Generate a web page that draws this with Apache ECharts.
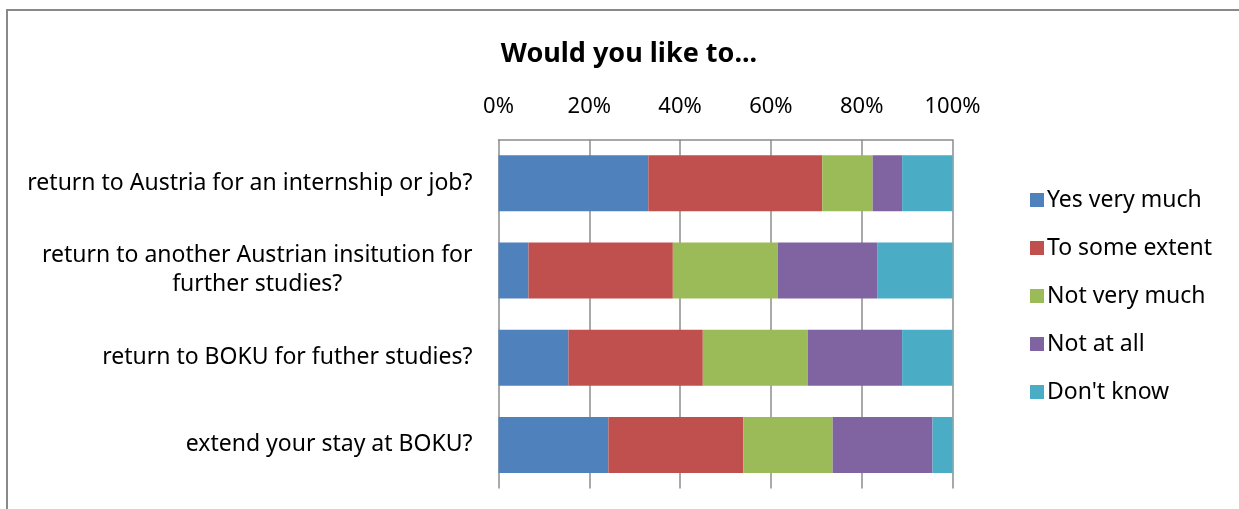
<!DOCTYPE html>
<html>
<head>
<meta charset="utf-8">
<script src="https://cdn.jsdelivr.net/npm/echarts@6/dist/echarts.min.js"></script>
<style>
  html, body { margin: 0; padding: 0; background: #fff; }
  #chart { width: 1239px; height: 509px; }
</style>
</head>
<body>
<div id="chart"></div>
<script>
var categories = [
    'return to Austria for an internship or job?',
    'return to another Austrian insitution for\nfurther studies?',
    'return to BOKU for futher studies?',
    'extend your stay at BOKU?'
];
var seriesNames = ['Yes very much', 'To some extent', 'Not very much', 'Not at all', "Don't know"];
var yesVeryMuch = [33.0, 6.6, 15.4, 24.2];
var toSomeExtent = [38.3, 31.8, 29.6, 29.7];
var notVeryMuch = [11.1, 23.1, 23.1, 19.7];
var notAtAll = [6.5, 21.9, 20.8, 22.0];
var dontKnow = [11.1, 16.6, 11.1, 4.4];
var xTicks = [0, 20, 40, 60, 80, 100];

var colors = ['#4F81BD', '#C0504D', '#9BBB59', '#8064A2', '#4BACC6'];
var values = [yesVeryMuch, toSomeExtent, notVeryMuch, notAtAll, dontKnow];
var font = 'Noto Sans';

var series = [];
for (var i = 0; i < seriesNames.length; i++) {
    series.push({
        name: seriesNames[i],
        type: 'bar',
        stack: 'total',
        barWidth: 56,
        data: values[i],
        itemStyle: { color: colors[i] }
    });
}

var myChart = echarts.init(document.getElementById('chart'));
var option = {
    backgroundColor: '#fff',
    animation: false,
    color: colors,
    title: {
        text: 'Would you like to...',
        left: 624,
        top: 36,
        textAlign: 'center',
        textStyle: { fontFamily: font, fontWeight: 'bold', fontSize: 27, color: '#000' }
    },
    legend: {
        orient: 'vertical',
        left: 1025,
        top: 183,
        itemWidth: 14,
        itemHeight: 14,
        itemGap: 24,
        icon: 'rect',
        data: seriesNames,
        textStyle: { fontFamily: font, fontSize: 23, color: '#000', lineHeight: 24, padding: [0, 0, 0, -2] }
    },
    grid: { left: 498.5, right: 286.5, top: 139.5, bottom: 20.5 },
    xAxis: {
        type: 'value',
        position: 'top',
        min: 0,
        max: 100,
        interval: 20,
        axisLine: { show: true, lineStyle: { color: '#8c8c8c', width: 1.5 } },
        axisTick: { show: false },
        splitLine: { show: true, lineStyle: { color: '#8c8c8c', width: 1.5 } },
        axisLabel: {
            fontFamily: font, fontSize: 22, color: '#000', margin: 22,
            formatter: function (v) { return xTicks.indexOf(v) >= 0 ? v + '%' : ''; }
        }
    },
    yAxis: {
        type: 'category',
        inverse: true,
        data: categories,
        axisLine: { show: false },
        axisTick: { show: false },
        axisLabel: {
            margin: 26,
            fontFamily: font,
            fontSize: 23,
            color: '#000',
            formatter: function (v) {
                return v.split('\n').map(function (s) { return '{c|' + s + '}'; }).join('\n');
            },
            rich: {
                c: { align: 'center', fontFamily: font, fontSize: 23, color: '#000', lineHeight: 29 }
            }
        }
    },
    graphic: [{
        type: 'rect',
        shape: { x: 7, y: 10, width: 1250, height: 520 },
        style: { fill: 'none', stroke: '#898989', lineWidth: 2 },
        silent: true
    }],
    series: series
};
myChart.setOption(option);
</script>
</body>
</html>
